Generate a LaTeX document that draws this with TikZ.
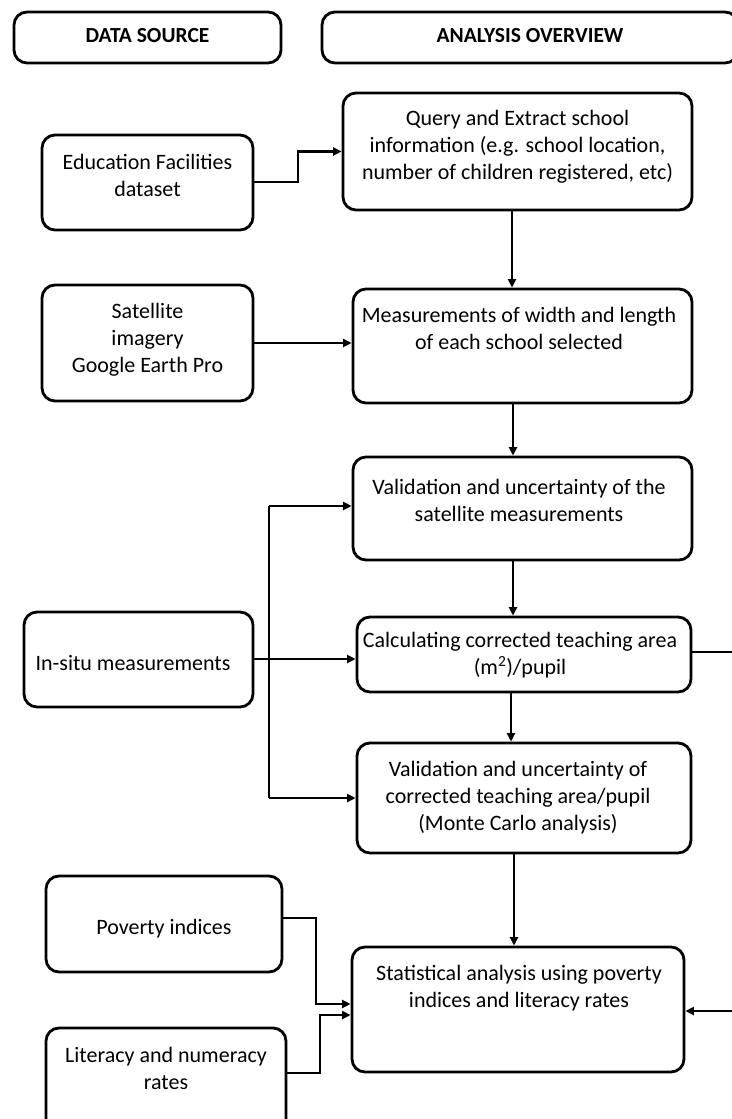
\documentclass[tikz,border=0pt]{standalone}
\usepackage{fontspec}
\setmainfont{Carlito}
\usetikzlibrary{arrows.meta,fit,positioning}
\begin{document}
\begin{tikzpicture}[x=1pt,y=-1pt,
  box/.style={draw=black, line width=2.8pt, rounded corners=13pt, inner sep=0pt},
  txt/.style={align=center, inner sep=0pt, font=\fontsize{22}{27}\selectfont},
  head/.style={align=center, inner sep=0pt, font=\fontsize{21.5}{26}\selectfont\bfseries},
  conn/.style={line width=2.6pt, draw=black},
  arr/.style={conn, -{Triangle[length=8.5pt,width=8pt]}}]
\useasboundingbox (0,0) rectangle (731,1119);
\fill[white] (0,0) rectangle (731,1119);

% headers
\node[box, fit={(14,12) (281,63)}] (hds) {};
\node[head] (hds-t) at (147.5,36) {DATA SOURCE};
\node[box, fit={(322,12) (738,63)}] (hao) {};
\node[head] (hao-t) at (530,36) {ANALYSIS OVERVIEW};

% data source boxes
\node[box, fit={(42,135) (253,230)}] (edu) {};
\node[txt] (edu-t) at (147.5,175) {Education Facilities\\dataset};
\node[box, fit={(42,285) (253,401)}] (sat) {};
\node[txt] (sat-t) at (147.5,340) {Satellite\\imagery\\Google Earth Pro};
\node[box, fit={(24,612) (253,707)}] (insitu) {};
\node[txt] (insitu-t) at (133,663) {In-situ measurements};
\node[box, fit={(46,876) (282,972)}] (pov) {};
\node[txt] (pov-t) at (164,929) {Poverty indices};
\node[box, fit={(46,1028) (286,1150)}] (lit) {};
\node[txt] (lit-t) at (166,1068) {Literacy and numeracy\\rates};

% analysis boxes
\node[box, fit={(343,93) (692,210)}] (query) {};
\node[txt] (query-t) at (517.5,146.5) {Query and Extract school\\information (e.g. school location,\\number of children registered, etc)};
\node[box, fit={(353,289) (692,403)}] (meas) {};
\node[txt] (meas-t) at (519,328.5) {Measurements of width and length\\of each school selected};
\node[box, fit={(353,457) (692,560)}] (val) {};
\node[txt] (val-t) at (519,500) {Validation and uncertainty of the\\satellite measurements};
\node[box, fit={(357,617) (691,692)}] (calc) {};
\node[txt] (calc-t) at (520,655) {Calculating corrected teaching area\\(m\textsuperscript{2})/pupil};
\node[box, fit={(357,743) (691,853)}] (val2) {};
\node[txt] (val2-t) at (518,797.5) {Validation and uncertainty of\\corrected teaching area/pupil\\(Monte Carlo analysis)};
\node[box, fit={(352,947) (684,1072)}] (stat) {};
\node[txt] (stat-t) at (519,988.5) {Statistical analysis using poverty\\indices and literacy rates};

% junction coordinates
\coordinate (e1) at (298,182);
\coordinate (jT) at (269,506);
\coordinate (jB) at (269,798);
\coordinate (p1) at (316,918);
\coordinate (l1) at (320,1073);
\coordinate (r1) at (750,652);

% connectors
\draw[arr] (edu.east |- e1) -- (e1) |- (query.west);
\draw[arr] (query.south -| 512,0) -- (meas.north -| 512,0);
\draw[arr] (sat.east |- 0,343) -- (meas.west |- 0,343);
\draw[arr] (meas.south -| 513,0) -- (val.north -| 513,0);
\draw[arr] (val.south -| 513,0) -- (calc.north -| 513,0);
\draw[arr] (calc.south -| 511,0) -- (val2.north -| 511,0);
\draw[arr] (val2.south -| 514,0) -- (stat.north -| 514,0);
\draw[arr] (insitu.east |- 0,659) -- (calc.west |- 0,659);
\draw[conn] (jT) -- (jB);
\draw[arr] (jT) -- (jT -| val.west);
\draw[arr] (jB) -- (jB -| val2.west);
\draw[arr] (pov.east |- p1) -- (p1) |- (stat.west |- 0,1004);
\draw[arr] (lit.east |- l1) -- (l1) |- (stat.west |- 0,1015);
\draw[arr] (calc.east |- r1) -- (r1) |- (stat.east |- 0,1011);
\end{tikzpicture}
\end{document}
